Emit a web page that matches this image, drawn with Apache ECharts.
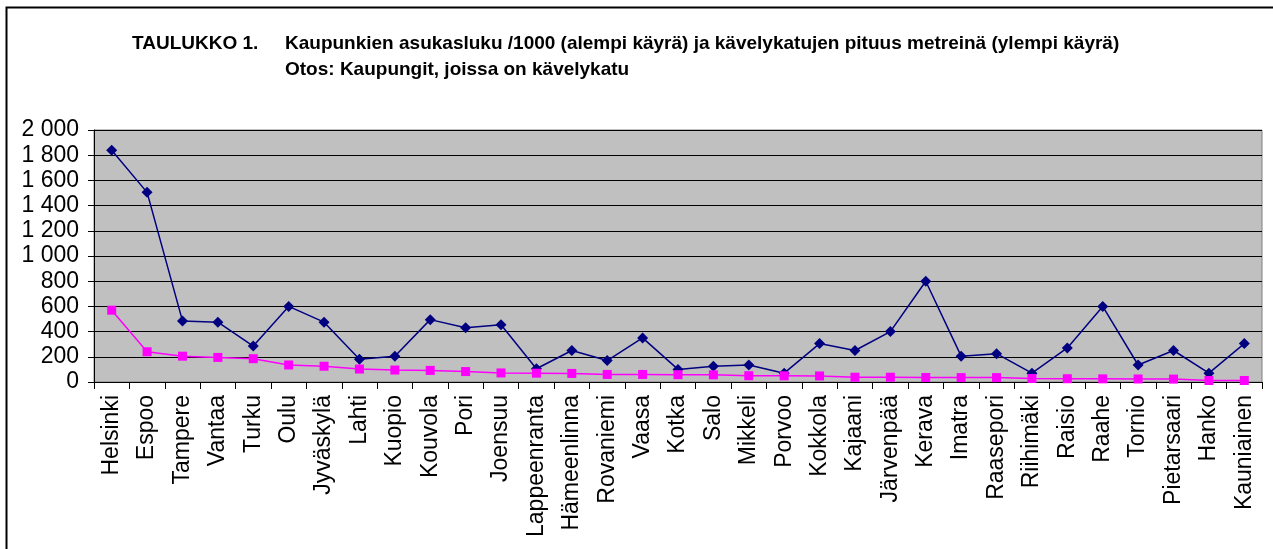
<!DOCTYPE html>
<html>
<head>
<meta charset="utf-8">
<script src="https://cdn.jsdelivr.net/npm/echarts@6/dist/echarts.min.js"></script>
<style>
  html, body { margin: 0; padding: 0; background: #fff; }
  #chart { width: 1273px; height: 549px; }
</style>
</head>
<body>
<div id="chart"></div>
<script>
// kaupungit
var cities = ['Helsinki', 'Espoo', 'Tampere', 'Vantaa', 'Turku', 'Oulu', 'Jyväskylä', 'Lahti',
  'Kuopio', 'Kouvola', 'Pori', 'Joensuu', 'Lappeenranta', 'Hämeenlinna', 'Rovaniemi', 'Vaasa',
  'Kotka', 'Salo', 'Mikkeli', 'Porvoo', 'Kokkola', 'Kajaani', 'Järvenpää', 'Kerava', 'Imatra',
  'Raasepori', 'Riihimäki', 'Raisio', 'Raahe', 'Tornio', 'Pietarsaari', 'Hanko', 'Kauniainen'];

// kävelykatujen pituus metreinä (ylempi käyrä)
var streetLength = [1840, 1505, 485, 475, 285, 600, 475, 180, 205, 495, 430, 455, 105, 250,
  170, 350, 100, 125, 135, 70, 305, 250, 400, 800, 205, 225, 70, 270, 600, 135, 250, 70, 305];

// asukasluku /1000 (alempi käyrä)
var population = [570, 240, 205, 195, 185, 135, 125, 103, 95, 92, 83, 72, 70, 68, 60, 60, 58,
  57, 50, 49, 48, 38, 38, 36, 35, 35, 28, 26, 25, 24, 23, 12, 12];

var yTicks = [0, 200, 400, 600, 800, 1000, 1200, 1400, 1600, 1800, 2000];

var chart = echarts.init(document.getElementById('chart'));

function fmt(v) {
  return String(v).replace(/\B(?=(\d{3})+(?!\d))/g, ' ');
}

var titleFont = 'bold 19px Liberation Sans, Arial, sans-serif';

var option = {
  animation: false,
  backgroundColor: '#fff',
  textStyle: { fontFamily: 'Liberation Sans, Arial, sans-serif' },
  graphic: [
    {
      type: 'rect',
      shape: { x: 6.5, y: 7.5, width: 1280, height: 560 },
      style: { fill: null, stroke: '#000', lineWidth: 2 },
      silent: true
    },
    {
      type: 'text', left: 132, top: 34,
      style: { text: 'TAULUKKO 1.', font: titleFont, fill: '#000' }
    },
    {
      type: 'text', left: 285, top: 34,
      style: { text: 'Kaupunkien asukasluku /1000 (alempi käyrä) ja kävelykatujen pituus metreinä (ylempi käyrä)', font: titleFont, fill: '#000' }
    },
    {
      type: 'text', left: 285, top: 60,
      style: { text: 'Otos: Kaupungit, joissa on kävelykatu', font: titleFont, fill: '#000' }
    }
  ],
  grid: {
    left: 94, right: 11, top: 130, bottom: 167,
    show: true, backgroundColor: '#C0C0C0', borderColor: '#808080', borderWidth: 1
  },
  xAxis: {
    type: 'category',
    data: cities,
    boundaryGap: true,
    axisLine: { lineStyle: { color: '#000', width: 1 } },
    axisTick: { show: true, length: 7, lineStyle: { color: '#000' } },
    axisLabel: { rotate: 90, interval: 0, fontSize: 23, color: '#000', margin: 13 },
    splitLine: { show: false }
  },
  yAxis: {
    type: 'value',
    min: 0, max: 2000, interval: 200,
    axisLine: { show: true, lineStyle: { color: '#000' } },
    axisTick: { show: true, length: 6, lineStyle: { color: '#000' } },
    axisLabel: {
      fontSize: 23, color: '#000', margin: 15,
      formatter: function (v) { return yTicks.indexOf(v) >= 0 ? fmt(v) : ''; }
    },
    splitLine: { show: true, lineStyle: { color: '#000', width: 1 } }
  },
  series: [
    {
      name: 'Kävelykatujen pituus',
      type: 'line',
      data: streetLength,
      symbol: 'diamond',
      symbolSize: 11,
      lineStyle: { color: '#000080', width: 1.5 },
      itemStyle: { color: '#000080' }
    },
    {
      name: 'Asukasluku /1000',
      type: 'line',
      data: population,
      symbol: 'rect',
      symbolSize: 9,
      lineStyle: { color: '#FF00FF', width: 1.5 },
      itemStyle: { color: '#FF00FF' }
    }
  ]
};

chart.setOption(option);
</script>
</body>
</html>
